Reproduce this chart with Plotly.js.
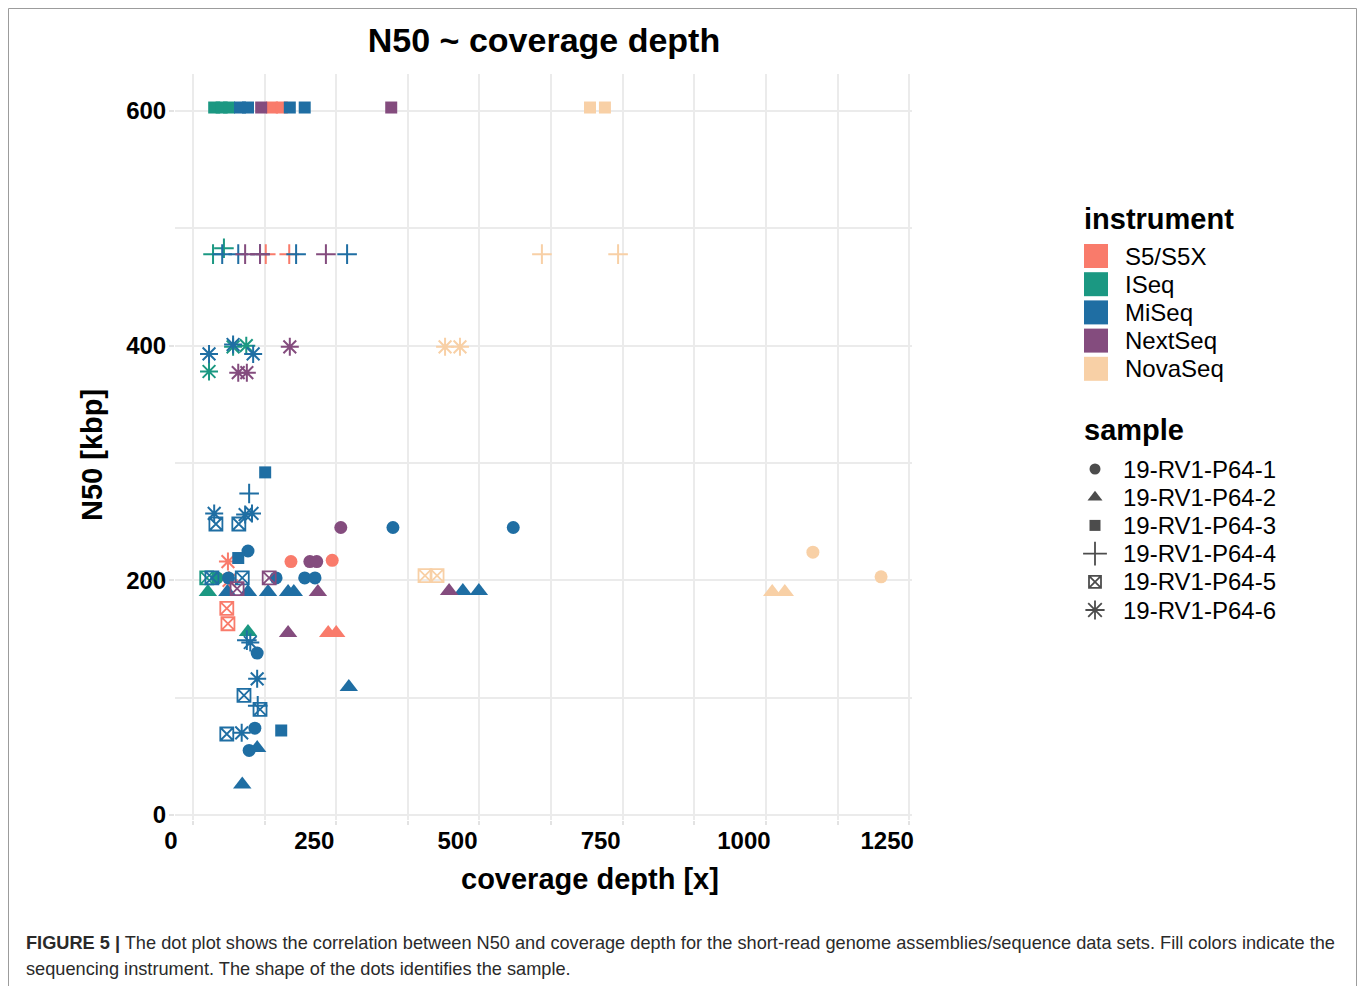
<!DOCTYPE html>
<html>
<head>
<meta charset="utf-8">
<script src="https://cdn.plot.ly/plotly-3.0.1.min.js"></script>
<style>
html,body{margin:0;padding:0;background:#fff;}
#chart{width:1358px;height:986px;}
</style>
</head>
<body>
<div id="chart"></div>
<script>
// ---------- categories ----------
const instruments = ["S5/S5X", "ISeq", "MiSeq", "NextSeq", "NovaSeq"];
const samples = ["19-RV1-P64-1", "19-RV1-P64-2", "19-RV1-P64-3", "19-RV1-P64-4", "19-RV1-P64-5", "19-RV1-P64-6"];
const xTicks = [0, 250, 500, 750, 1000, 1250];
const yTicks = [0, 200, 400, 600];

// ---------- data (coverage depth [x], N50 [kbp], sample number) ----------
const s5Depth  = [171, 243, 236, 250, 138, 155, 127, 168, 59, 61, 61, 63];
const s5N50    = [216, 217, 155, 155, 603, 603, 478, 478, 176, 163, 216, 200];
const s5Sample = [1, 1, 2, 2, 3, 3, 4, 4, 5, 5, 6, 6];

const iseqDepth  = [42, 26, 96, 37, 50, 63, 35, 54, 24, 28, 70, 93];
const iseqN50    = [202, 190, 156, 603, 603, 603, 478, 483, 202, 378, 399, 400];
const iseqSample = [1, 2, 2, 3, 3, 3, 4, 4, 5, 6, 6, 6];

const miseqDepth  = [349, 559, 96, 145, 195, 213, 112, 108, 98, 62,
                     60, 96, 131, 166, 176, 471, 499, 272, 112, 86,
                     82, 96, 169, 195, 126, 79, 154,
                     51, 79, 117, 180, 269, 98, 94, 113,
                     40, 80, 33, 86, 89, 117, 59,
                     28, 70, 105, 37, 91, 103, 100, 112, 85];
const miseqN50    = [245, 245, 225, 202, 202, 202, 138, 74, 55, 202,
                     190, 190, 190, 190, 190, 191, 191, 109, 57, 26,
                     603, 603, 603, 603, 292, 219, 72,
                     478, 478, 478, 478, 478, 274, 149, 93,
                     248, 248, 202, 202, 102, 90, 69,
                     393, 401, 393, 257, 256, 257, 147, 116, 70];
const miseqSample = [1, 1, 1, 1, 1, 1, 1, 1, 1, 1,
                     2, 2, 2, 2, 2, 2, 2, 2, 2, 2,
                     3, 3, 3, 3, 3, 3, 3,
                     4, 4, 4, 4, 4, 4, 4, 4,
                     5, 5, 5, 5, 5, 5, 5,
                     6, 6, 6, 6, 6, 6, 6, 6, 6];

const nextDepth  = [258, 204, 216, 218, 166, 447, 119, 346, 91, 117, 232, 133, 77, 79, 94, 169];
const nextN50    = [245, 216, 216, 190, 155, 191, 603, 603, 478, 478, 478, 202, 193, 377, 377, 399];
const nextSample = [1, 1, 1, 2, 2, 2, 3, 3, 4, 4, 4, 5, 5, 6, 6, 6];

const novaDepth  = [1082, 1201, 1011, 1033, 693, 719, 609, 742, 405, 426, 440, 466];
const novaN50    = [224, 203, 190, 190, 603, 603, 478, 478, 204, 204, 399, 399];
const novaSample = [1, 1, 2, 2, 3, 3, 4, 4, 5, 5, 6, 6];

// ---------- styles ----------
const instrumentColors = ["#F97B6B", "#1B9882", "#1F6EA3", "#844C7E", "#F8D0A6"];
const sampleStyle = [
  {symbol: "circle", size: 13, lw: 0},
  {symbol: "triangle-up", size: 16, lw: 0},
  {symbol: "square", size: 12, lw: 0},
  {symbol: "cross-thin-open", size: 14, lw: 2},
  {symbol: "square-x-open", size: 13, lw: 1.8},
  {symbol: "asterisk-open", size: 15, lw: 2}
];

const W = 1358, H = 986;
const FONT = "Liberation Sans, Arial, Helvetica, sans-serif";

const dataSets = [
  [s5Depth, s5N50, s5Sample],
  [iseqDepth, iseqN50, iseqSample],
  [miseqDepth, miseqN50, miseqSample],
  [nextDepth, nextN50, nextSample],
  [novaDepth, novaN50, novaSample]
];

const traces = [];
dataSets.forEach(function(ds, i) {
  const col = instrumentColors[i];
  samples.forEach(function(sName, s) {
    const xs = [], ys = [];
    ds[2].forEach(function(v, k) { if (v === s + 1) { xs.push(ds[0][k]); ys.push(ds[1][k]); } });
    if (!xs.length) return;
    const st = sampleStyle[s];
    traces.push({
      type: "scatter", mode: "markers", x: xs, y: ys,
      name: instruments[i] + " – " + sName, showlegend: false,
      marker: {symbol: st.symbol, size: st.size, color: col,
               line: {width: st.lw, color: col}},
      cliponaxis: false,
      hovertemplate: instruments[i] + "<br>" + sName + "<br>depth %{x}<br>N50 %{y}<extra></extra>"
    });
  });
});

// ---------- legend (drawn on a helper axis measured in pixels) ----------
const legX = 1096, instTop = 256, sampTop = 469, step = 28.2;
traces.push({
  type: "scatter", mode: "markers", xaxis: "x2", yaxis: "y2", hoverinfo: "skip", showlegend: false,
  x: instruments.map(function() { return legX; }),
  y: instruments.map(function(_, i) { return instTop + i * step; }),
  marker: {symbol: "square", size: 24, color: instrumentColors, line: {width: 0}}
});
traces.push({
  type: "scatter", mode: "markers", xaxis: "x2", yaxis: "y2", hoverinfo: "skip", showlegend: false,
  x: samples.map(function() { return legX - 1; }),
  y: samples.map(function(_, i) { return sampTop + i * step; }),
  marker: {
    symbol: sampleStyle.map(function(s) { return s.symbol; }),
    size: [11, 13, 11, 17, 12, 16],
    color: "#000",
    line: {width: sampleStyle.map(function(s) { return s.lw ? 1.8 : 0; }), color: "#000"}
  }
});

const annotations = [];
annotations.push({xref: "x2", yref: "y2", x: 1082, y: 219, xanchor: "left", yanchor: "middle",
  text: "instrument", showarrow: false, font: {family: FONT, size: 29, color: "#000", weight: "bold"}});
annotations.push({xref: "x2", yref: "y2", x: 1082, y: 430, xanchor: "left", yanchor: "middle",
  text: "sample", showarrow: false, font: {family: FONT, size: 29, color: "#000", weight: "bold"}});
instruments.forEach(function(n, i) {
  annotations.push({xref: "x2", yref: "y2", x: 1123, y: instTop + i * step, xanchor: "left", yanchor: "middle",
    text: n, showarrow: false, font: {family: FONT, size: 24, color: "#000"}});
});
samples.forEach(function(n, i) {
  annotations.push({xref: "x2", yref: "y2", x: 1121, y: sampTop + i * step, xanchor: "left", yanchor: "middle",
    text: n, showarrow: false, font: {family: FONT, size: 24, color: "#000"}});
});
// axis titles
annotations.push({xref: "paper", yref: "paper", x: 590 / W, y: 1 - 879 / H, xanchor: "center", yanchor: "middle",
  text: "coverage depth [x]", showarrow: false, font: {family: FONT, size: 29, color: "#000", weight: "bold"}});
annotations.push({xref: "paper", yref: "paper", x: 92 / W, y: 1 - 455 / H, xanchor: "center", yanchor: "middle",
  text: "N50 [kbp]", textangle: -90, showarrow: false, font: {family: FONT, size: 29, color: "#000", weight: "bold"}});
// caption
const CAPFONT = "Liberation Sans, Arial, sans-serif";
annotations.push({xref: "paper", yref: "paper", x: 24 / W, y: 1 - 943 / H, xanchor: "left", yanchor: "middle",
  text: "<b>FIGURE 5 |</b> The dot plot shows the correlation between N50 and coverage depth for the short-read genome assemblies/sequence data sets. Fill colors indicate the",
  showarrow: false, font: {family: CAPFONT, size: 18.2, color: "#2a2a2a"}});
annotations.push({xref: "paper", yref: "paper", x: 24 / W, y: 1 - 969 / H, xanchor: "left", yanchor: "middle",
  text: "sequencing instrument. The shape of the dots identifies the sample.",
  showarrow: false, font: {family: CAPFONT, size: 18.2, color: "#2a2a2a"}});

const gridCol = "#ebebeb";
const layout = {
  width: W, height: H,
  margin: {l: 0, r: 0, t: 0, b: 0, pad: 0},
  paper_bgcolor: "#fff", plot_bgcolor: "rgba(0,0,0,0)",
  showlegend: false,
  title: {text: "N50 ~ coverage depth", x: 544 / W, y: 1 - 40 / H, xanchor: "center", yanchor: "middle",
          font: {family: FONT, size: 34, color: "#000", weight: "bold"}},
  xaxis: {
    domain: [175 / W, 912 / W], range: [-31.4, 1255], automargin: false,
    tickmode: "array", tickvals: xTicks, ticktext: xTicks.map(String),
    showgrid: true, gridcolor: gridCol, gridwidth: 2.2, zeroline: false, showline: false,
    minor: {tickmode: "array", tickvals: [125, 375, 625, 875, 1125], showgrid: true, gridcolor: gridCol, gridwidth: 1.6, ticks: "outside", ticklen: 4, tickcolor: "#e3e3e3"},
    ticks: "outside", ticklen: 4, tickwidth: 1.5, tickcolor: "#e3e3e3",
    ticklabelshift: -22, ticklabelstandoff: -5,
    tickfont: {family: FONT, size: 24, color: "#000", weight: "bold"},
    fixedrange: true
  },
  yaxis: {
    domain: [1 - 820 / H, 1 - 73.5 / H], range: [-4.3, 632], automargin: false,
    tickmode: "array", tickvals: yTicks, ticktext: yTicks.map(String),
    showgrid: true, gridcolor: gridCol, gridwidth: 2.2, zeroline: false, showline: false,
    minor: {tickmode: "array", tickvals: [100, 300, 500], showgrid: true, gridcolor: gridCol, gridwidth: 1.6},
    ticks: "outside", ticklen: 5, tickwidth: 1.5, tickcolor: "#e3e3e3",
    ticklabelstandoff: -2,
    tickfont: {family: FONT, size: 24, color: "#000", weight: "bold"},
    fixedrange: true
  },
  xaxis2: {domain: [1060 / W, 1320 / W], range: [1060, 1320], visible: false, fixedrange: true, anchor: "y2"},
  yaxis2: {domain: [1 - 650 / H, 1 - 180 / H], range: [650, 180], visible: false, fixedrange: true, anchor: "x2"},
  annotations: annotations,
  shapes: [{type: "rect", xref: "paper", yref: "paper", x0: 8.5 / W, x1: 1356.5 / W, y0: -0.05, y1: 1 - 8.5 / H,
            line: {color: "#9c9c9c", width: 1}, fillcolor: "rgba(0,0,0,0)", layer: "below"}]
};

Plotly.newPlot("chart", traces, layout, {displayModeBar: false, staticPlot: false});
</script>
</body>
</html>
